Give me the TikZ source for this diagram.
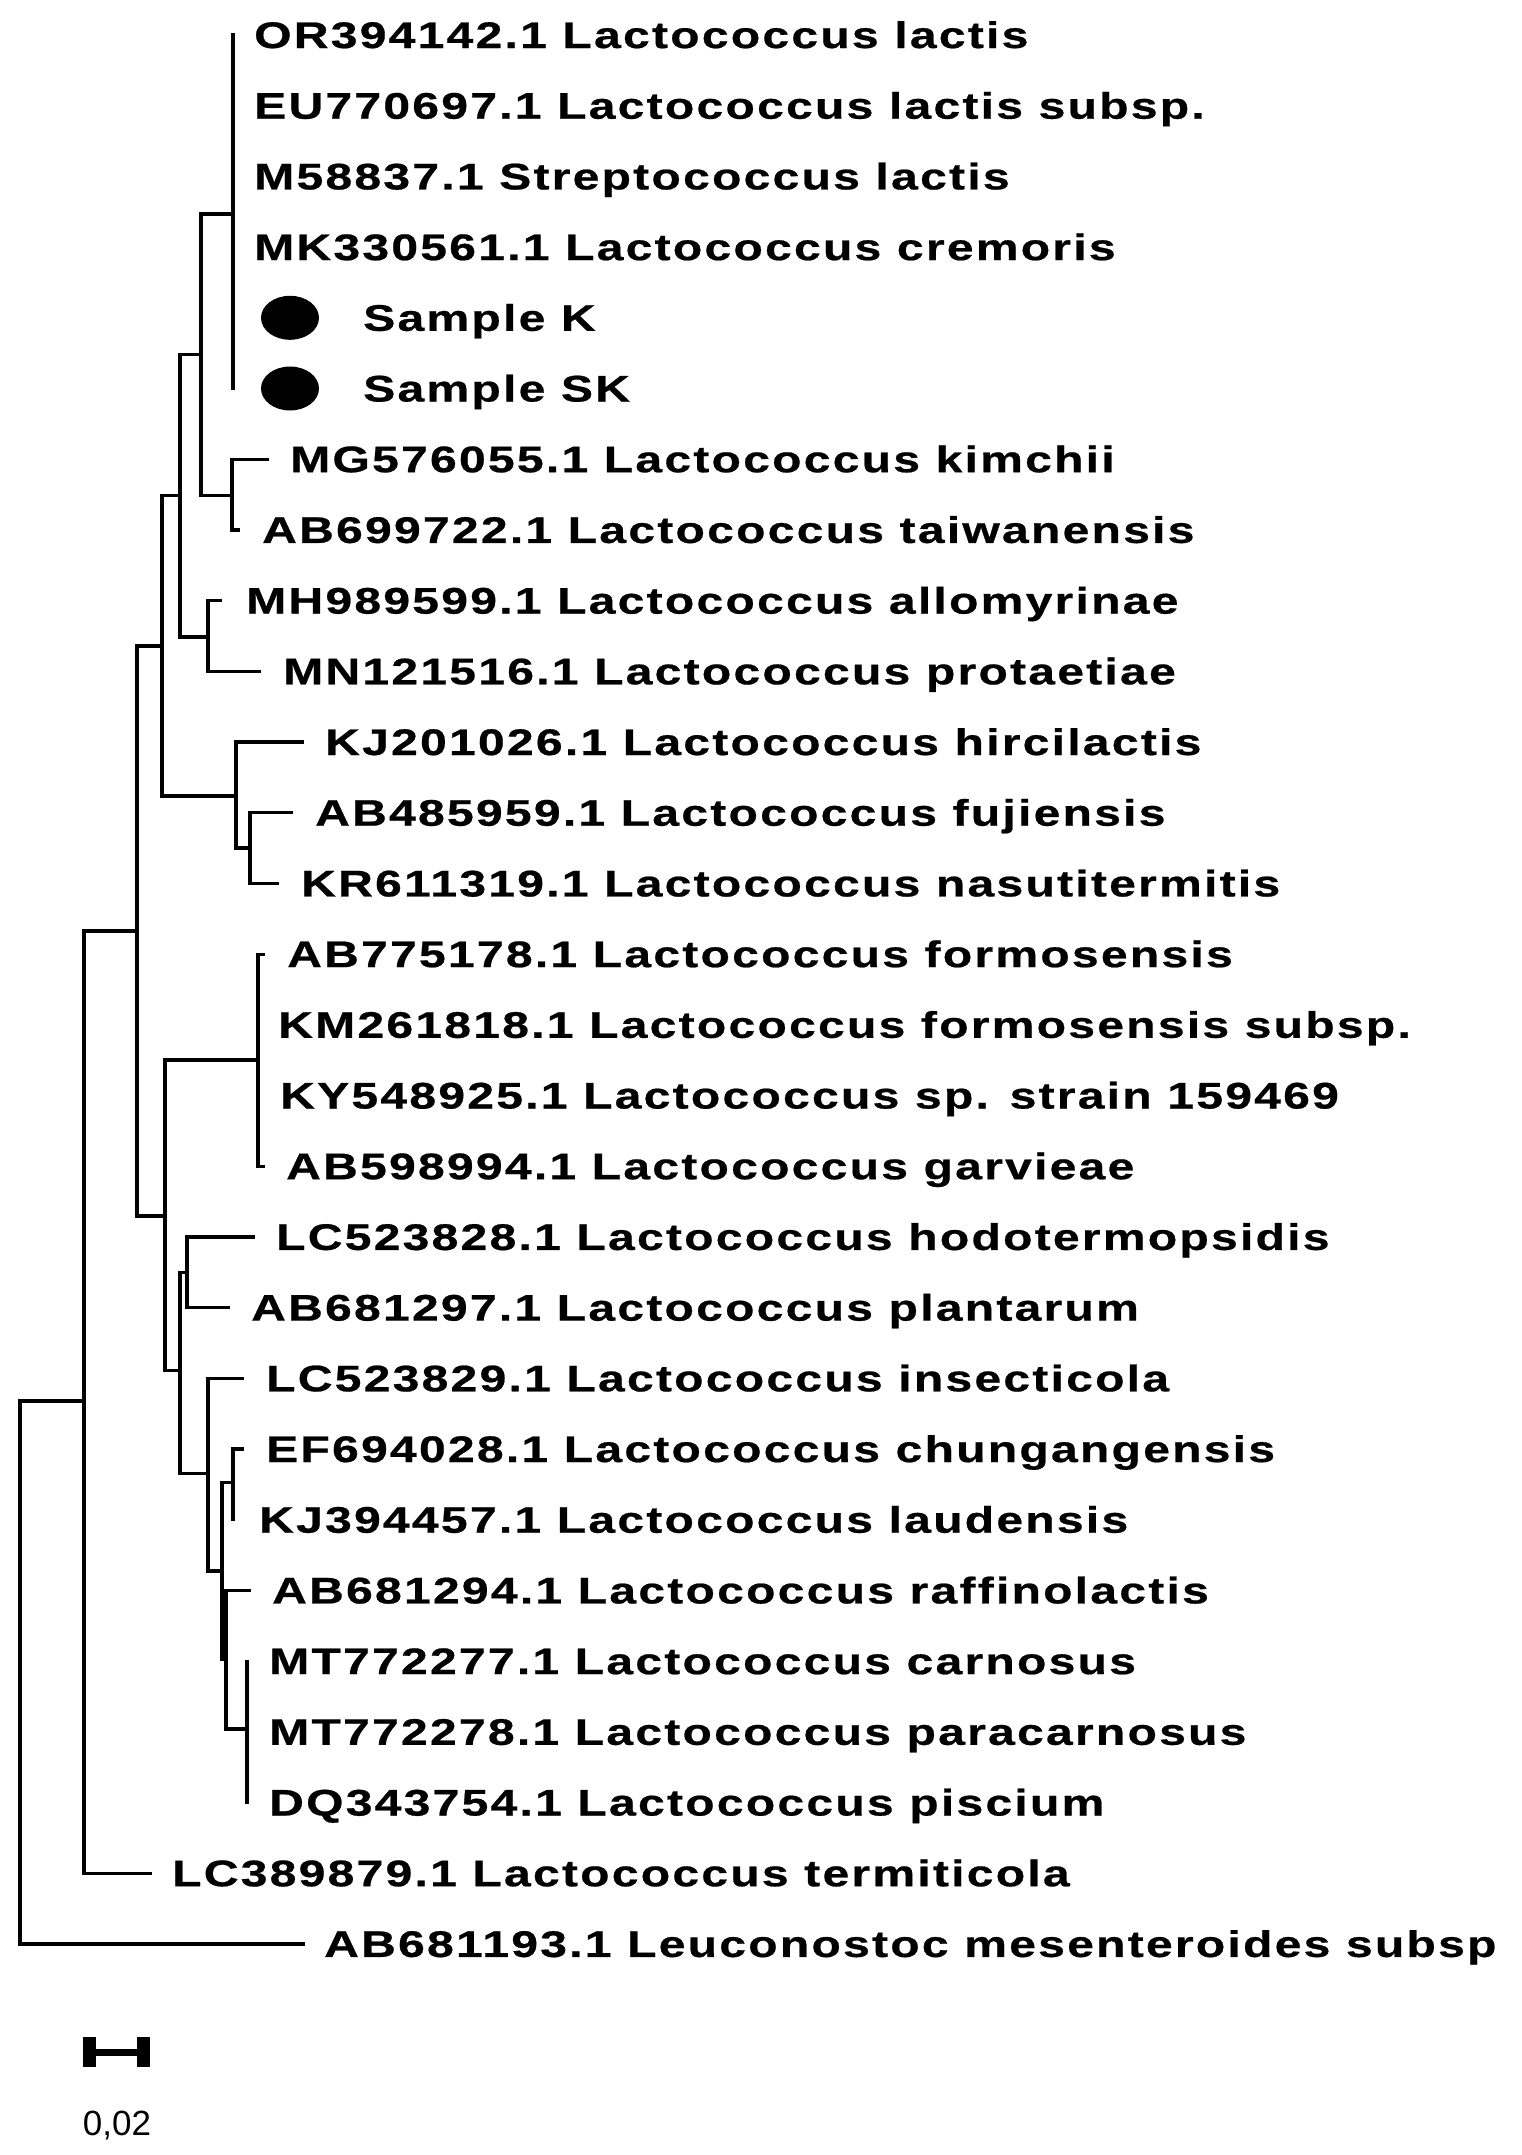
\documentclass[tikz,border=0pt]{standalone}
\usepackage{fontspec}
\setmainfont{Liberation Sans}
\newfontfamily\labfont[LetterSpace=6,FakeStretch=1.30,FakeBold=0.6]{Liberation Sans}
\begin{document}
\begin{tikzpicture}[x=1pt,y=-1pt,
  br/.style={line width=3.2pt,line cap=rect},
  lab/.style={anchor=base west,inner sep=0pt,font=\labfont\fontsize{37}{40}\selectfont\bfseries}]
\useasboundingbox (0,0) rectangle (1521,2155);
\def\row#1{35+70.7*#1}
% internal nodes
\coordinate (R) at (20,1401);
\coordinate (K) at (84,1401);
\coordinate (E) at (137,931);
\coordinate (D) at (162,646);
\coordinate (C) at (180,495.5);
\coordinate (B) at (201,354.6);
\coordinate (A) at (233,214);
\coordinate (Nkim) at (232,495.5);
\coordinate (Nallo) at (208,637);
\coordinate (Nhirc) at (236,796);
\coordinate (Nfuj) at (250,848);
\coordinate (F) at (165,1216);
\coordinate (Nform) at (258,1060);
\coordinate (G) at (180,1370.5);
\coordinate (Nhod) at (187,1272.5);
\coordinate (H) at (208,1473.6);
\coordinate (I) at (222,1571);
\coordinate (Nef) at (233,1482.5);
\coordinate (J) at (226,1659);
\coordinate (Ncar) at (247,1729);
% tips
\foreach \i/\x in {0/233,1/233,2/233,3/233,4/233,5/233,6/267,7/238,8/220,9/259,10/302,11/291,12/277,13/263,14/258,15/258,16/263,17/253,18/228,19/242,20/242,21/233,22/249,23/247,24/247,25/247,26/150,27/303}
  \coordinate (t\i) at (\x,{\row{\i}});
% branches
\draw[br] (R) |- (K) (R) |- (t27)
  (K) |- (E) (K) |- (t26)
  (E) |- (D) (E) |- (F)
  (D) |- (C) (D) |- (Nhirc)
  (C) |- (B) (C) |- (Nallo)
  (B) |- (A) (B) |- (Nkim)
  (A) |- (t0) (A) |- (t5)
  (Nkim) |- (t6) (Nkim) |- (t7)
  (Nallo) |- (t8) (Nallo) |- (t9)
  (Nhirc) |- (t10) (Nhirc) |- (Nfuj)
  (Nfuj) |- (t11) (Nfuj) |- (t12)
  (F) |- (Nform) (F) |- (G)
  (Nform) |- (t13) (Nform) |- (t16)
  (G) |- (Nhod) (G) |- (H)
  (Nhod) |- (t17) (Nhod) |- (t18)
  (H) |- (t19) (H) |- (I)
  (I) |- (Nef) (I) |- (J)
  (Nef) |- (t20) (Nef) |- (t21)
  (J) |- (t22) (J) |- (Ncar)
  (Ncar) |- (t23) (Ncar) |- (t25);
% labels
\foreach \i/\x/\t in {
 0/254/OR394142.1 Lactococcus lactis,
 1/254/EU770697.1 Lactococcus lactis subsp.,
 2/254/M58837.1 Streptococcus lactis,
 3/254/MK330561.1 Lactococcus cremoris,
 4/363/Sample K,
 5/363/Sample SK,
 6/290/MG576055.1 Lactococcus kimchii,
 7/262/AB699722.1 Lactococcus taiwanensis,
 8/246/MH989599.1 Lactococcus allomyrinae,
 9/283/MN121516.1 Lactococcus protaetiae,
 10/325/KJ201026.1 Lactococcus hircilactis,
 11/315/AB485959.1 Lactococcus fujiensis,
 12/301/KR611319.1 Lactococcus nasutitermitis,
 13/287/AB775178.1 Lactococcus formosensis,
 14/278/KM261818.1 Lactococcus formosensis subsp.,
 15/280/KY548925.1 Lactococcus sp. strain 159469,
 16/286/AB598994.1 Lactococcus garvieae,
 17/276/LC523828.1 Lactococcus hodotermopsidis,
 18/251/AB681297.1 Lactococcus plantarum,
 19/266/LC523829.1 Lactococcus insecticola,
 20/266/EF694028.1 Lactococcus chungangensis,
 21/259/KJ394457.1 Lactococcus laudensis,
 22/272/AB681294.1 Lactococcus raffinolactis,
 23/269/MT772277.1 Lactococcus carnosus,
 24/269/MT772278.1 Lactococcus paracarnosus,
 25/269/DQ343754.1 Lactococcus piscium,
 26/172/LC389879.1 Lactococcus termiticola,
 27/324/AB681193.1 Leuconostoc mesenteroides subsp}
  \node[lab] (l\i) at (\x,{\row{\i}+13}) {\t};
% sample dots
\fill (290,{\row{4}}) ellipse [x radius=29,y radius=22];
\fill (290,{\row{5}}) ellipse [x radius=29,y radius=22];
% scale bar
\coordinate (s1) at (83,2052);
\coordinate (s2) at (150,2052);
\draw[line width=7pt] (s1) -- (s2);
\fill (83,2037) rectangle (96,2067);
\fill (137,2037) rectangle (150,2067);
\node[font=\fontsize{35}{38}\selectfont,inner sep=0pt] (sc) at (117,2125) {0,02};
\end{tikzpicture}
\end{document}
